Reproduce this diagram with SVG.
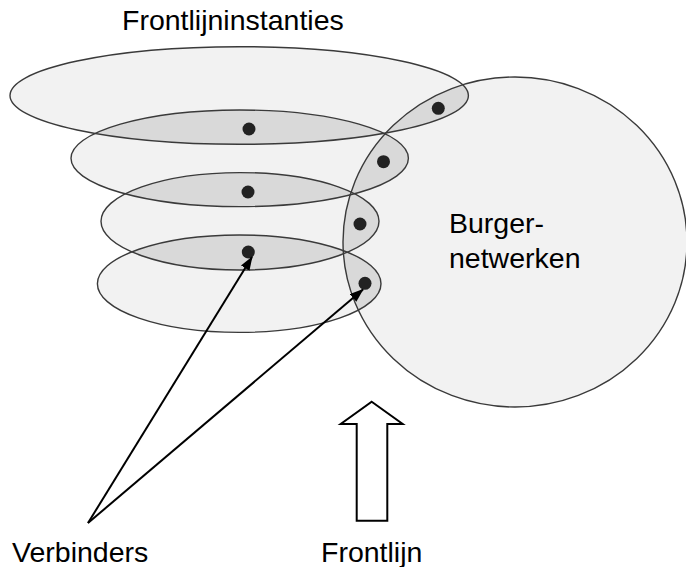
<svg xmlns="http://www.w3.org/2000/svg" width="686" height="567" viewBox="0 0 686 567">
  <style>
    .base { fill: #f2f2f2; stroke: none; }
    .overlap { fill: #d9d9d9; stroke: none; }
    .outline { fill: none; stroke: #3a3a3a; stroke-width: 1.4; }
    .dot { fill: #222222; }
    .label { font-family: "Liberation Sans", Arial, sans-serif; font-size: 28.5px; fill: #000000; }
    .conn { stroke: #000000; stroke-width: 2; fill: none; }
    .block { fill: #ffffff; stroke: #000000; stroke-width: 2; stroke-linejoin: miter; }
  </style>
  <defs>
    <ellipse id="e1" cx="239.2" cy="95.5" rx="229.2" ry="48.8"/>
    <ellipse id="e2" cx="239.7" cy="158.3" rx="168.7" ry="48.3"/>
    <ellipse id="e3" cx="240" cy="221.3" rx="139" ry="48.7"/>
    <ellipse id="e4" cx="239.2" cy="283.7" rx="141.8" ry="48.7"/>
    <ellipse id="bc" cx="515" cy="242" rx="172" ry="165"/>
    <clipPath id="c1"><use href="#e1"/></clipPath>
    <clipPath id="c2"><use href="#e2"/></clipPath>
    <clipPath id="c3"><use href="#e3"/></clipPath>
    <clipPath id="c4"><use href="#e4"/></clipPath>
    <marker id="ah" viewBox="0 0 14 10" refX="13" refY="5" markerWidth="14" markerHeight="10" markerUnits="userSpaceOnUse" orient="auto">
      <path d="M0,0 L14,5 L0,10 z" fill="#000000"/>
    </marker>
  </defs>

  <!-- base fills -->
  <g id="fills">
    <use href="#bc" class="base"/>
    <use href="#e1" class="base"/>
    <use href="#e2" class="base"/>
    <use href="#e3" class="base"/>
    <use href="#e4" class="base"/>
  </g>

  <!-- overlap regions -->
  <g id="overlaps">
    <use href="#e2" class="overlap" clip-path="url(#c1)"/>
    <use href="#e3" class="overlap" clip-path="url(#c2)"/>
    <use href="#e4" class="overlap" clip-path="url(#c3)"/>
    <use href="#bc" class="overlap" clip-path="url(#c1)"/>
    <use href="#bc" class="overlap" clip-path="url(#c2)"/>
    <use href="#bc" class="overlap" clip-path="url(#c3)"/>
    <use href="#bc" class="overlap" clip-path="url(#c4)"/>
  </g>

  <!-- outlines -->
  <g id="burgernetwerken"><use href="#bc" class="outline"/></g>
  <g id="instantie1"><use href="#e1" class="outline"/></g>
  <g id="instantie2"><use href="#e2" class="outline"/></g>
  <g id="instantie3"><use href="#e3" class="outline"/></g>
  <g id="instantie4"><use href="#e4" class="outline"/></g>

  <!-- dots -->
  <g id="verbinder-dots">
    <circle class="dot" cx="249" cy="129" r="6.5"/>
    <circle class="dot" cx="248" cy="192" r="6.5"/>
    <circle class="dot" cx="248.3" cy="252" r="6.5"/>
    <circle class="dot" cx="438.3" cy="108.3" r="6.5"/>
    <circle class="dot" cx="383.5" cy="161.7" r="6.5"/>
    <circle class="dot" cx="360" cy="224" r="6.5"/>
    <circle class="dot" cx="365" cy="283.3" r="6.5"/>
  </g>

  <!-- connectors -->
  <g id="connectors">
    <line class="conn" x1="88" y1="523" x2="252" y2="257" marker-end="url(#ah)"/>
    <line class="conn" x1="88" y1="523" x2="363" y2="289.5" marker-end="url(#ah)"/>
  </g>

  <!-- frontlijn block arrow -->
  <g id="frontlijn-arrow">
    <polygon class="block" points="371.7,401.7 402.7,424 387.3,424 387.3,520.7 356.7,520.7 356.7,424 340.7,424"/>
  </g>

  <!-- labels -->
  <g id="label-frontlijninstanties"><text class="label" x="122" y="30">Frontlijninstanties</text></g>
  <g id="label-burgernetwerken">
    <text class="label" x="449" y="233">Burger-</text>
    <text class="label" x="449" y="268">netwerken</text>
  </g>
  <g id="label-verbinders"><text class="label" x="12" y="562">Verbinders</text></g>
  <g id="label-frontlijn"><text class="label" x="321" y="562">Frontlijn</text></g>
</svg>
